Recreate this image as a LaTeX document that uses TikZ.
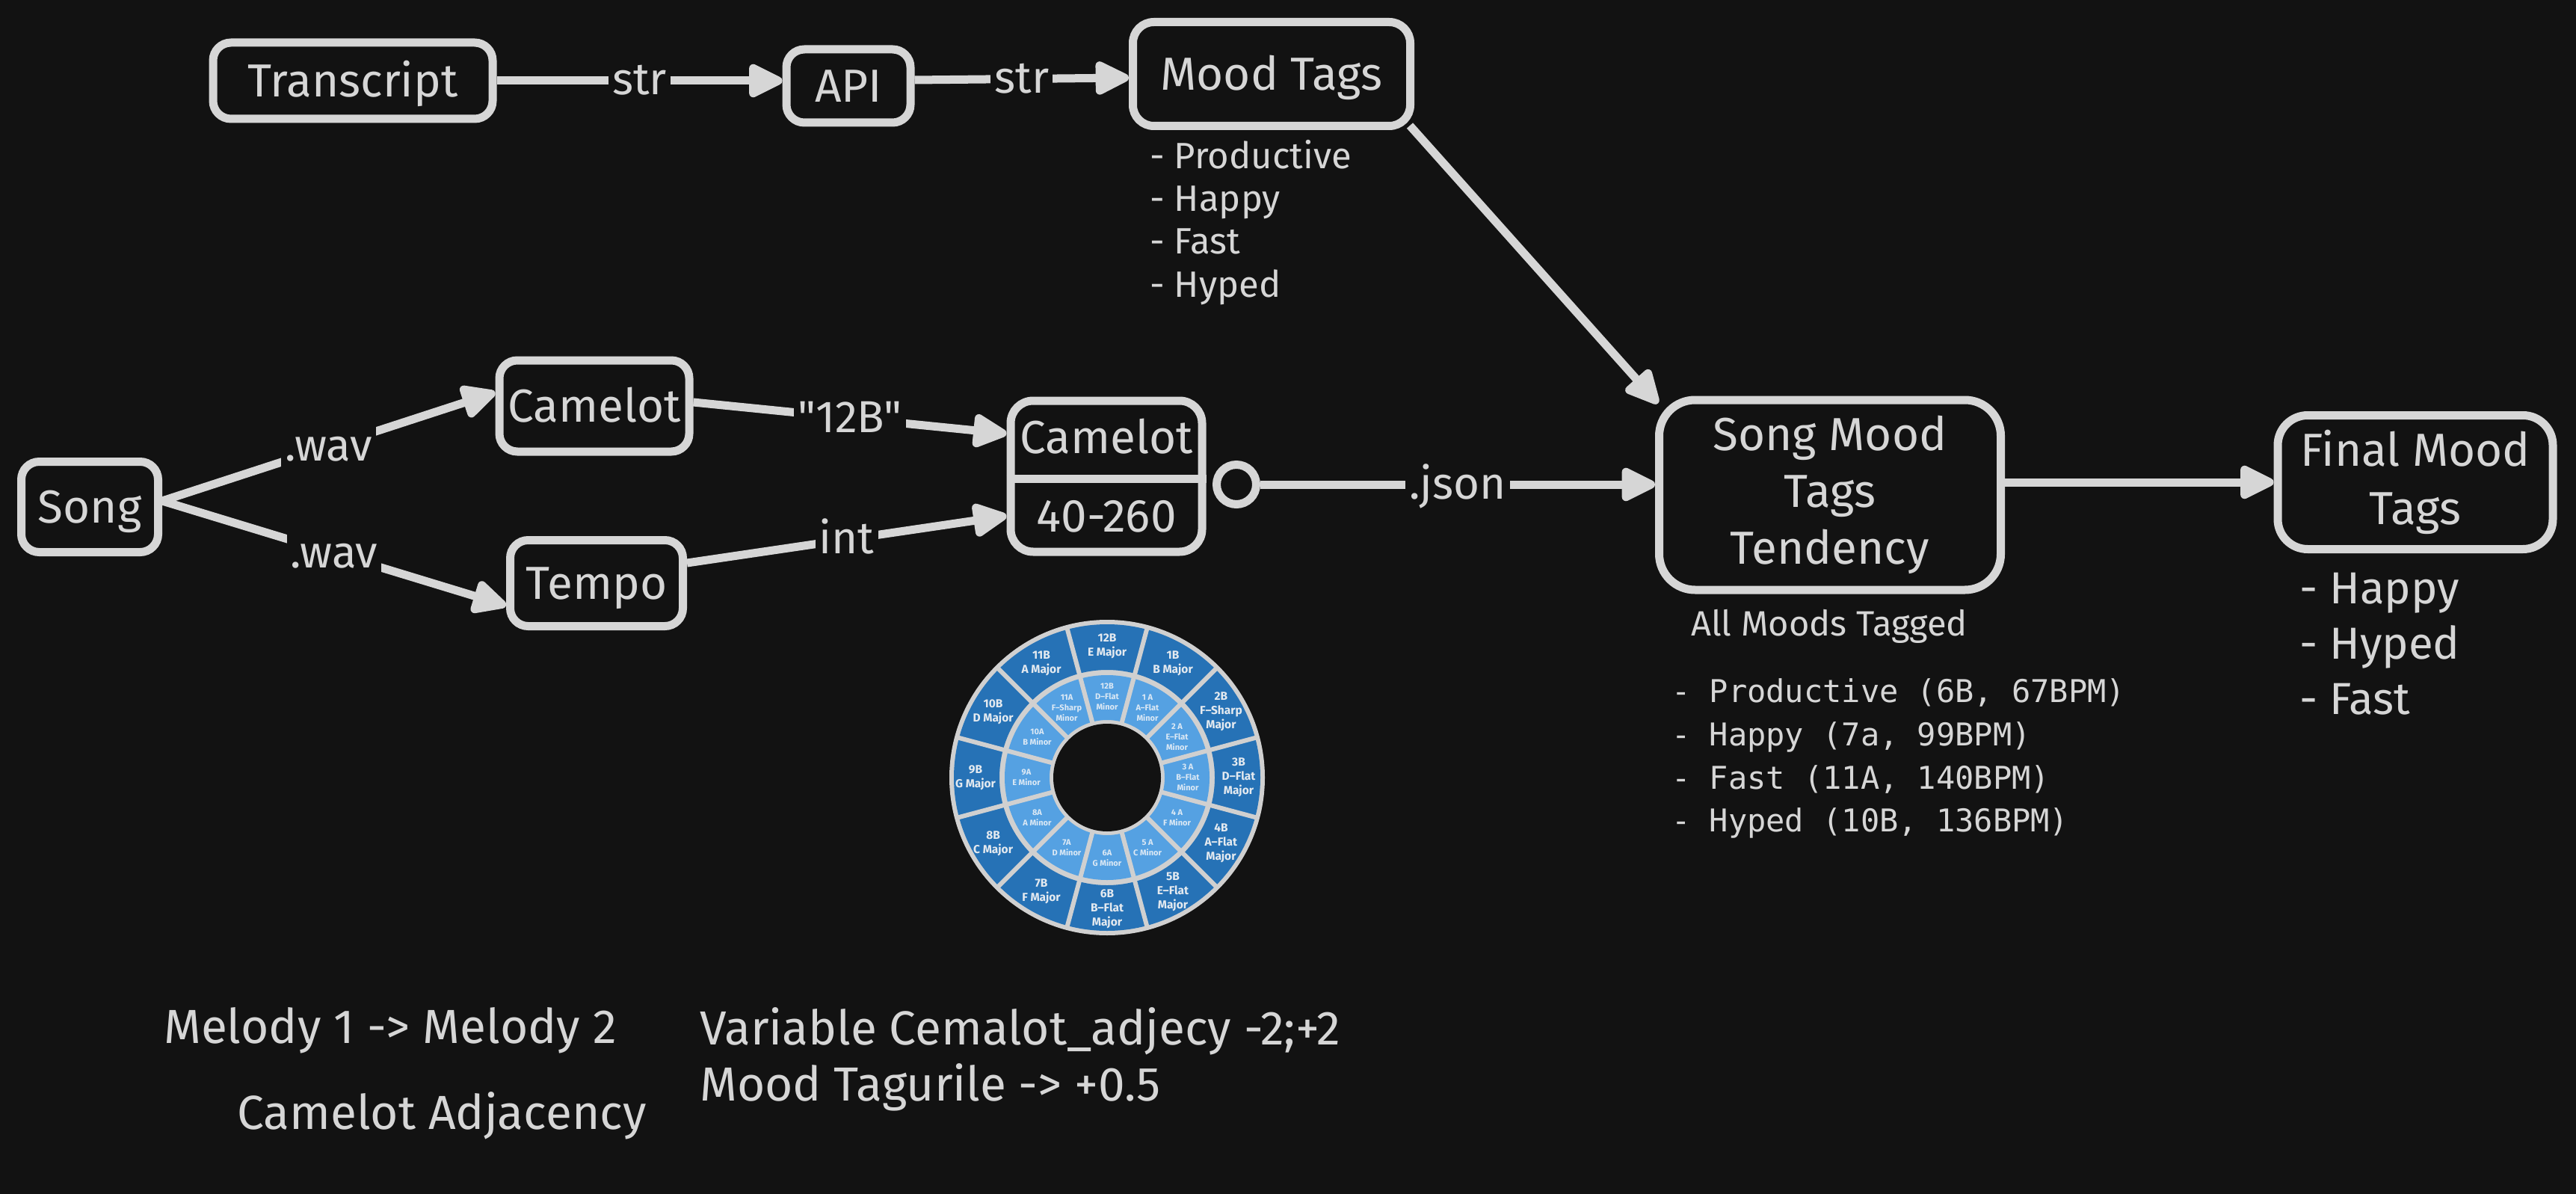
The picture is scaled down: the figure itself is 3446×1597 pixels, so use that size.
\documentclass[tikz,border=0pt]{standalone}
\usepackage{fontspec}
\setmainfont{Fira Sans}[Ligatures=TeXOff]
\newfontfamily\codefont{DejaVu Sans Mono}
\usetikzlibrary{arrows.meta,calc}
\definecolor{bg}{HTML}{121212}
\definecolor{fg}{HTML}{D6D6D6}
\definecolor{wheelgray}{HTML}{D0D0D0}
\definecolor{outerblue}{HTML}{2672B6}
\definecolor{innerblue}{HTML}{55A1E2}
\definecolor{outertext}{HTML}{E4EAF0}
\definecolor{innertext}{HTML}{DCE9F5}
\tikzset{
  box/.style={draw=fg, line width=11pt, rounded corners=#1, inner sep=0pt, text=fg,
    font=\fontsize{62}{76}\selectfont, align=center},
  box/.default=24pt,
  oneline/.style={text height=43pt, text depth=0pt},
  conn/.style={draw=fg, line width=11pt, -{Triangle[length=52pt,width=48pt,round]}},
  lbl/.style={fill=bg, text=fg, inner sep=5pt, text height=44pt, text depth=6pt,
    font=\fontsize{60}{70}\selectfont},
  plain/.style={text=fg, inner sep=0pt},
  wtxtout/.style={text=outertext, font=\fontsize{15.5}{19}\selectfont\bfseries, align=center, inner sep=0pt},
  wtxtin/.style={text=innertext, font=\fontsize{11}{14}\selectfont\bfseries, align=center, inner sep=0pt},
}
\begin{document}
\begin{tikzpicture}[x=1pt,y=-1pt]
\fill[bg] (0,0) rectangle (3446,1597);
\useasboundingbox (0,0) rectangle (3446,1597);

% top row
\node[box, oneline, minimum width=374pt, minimum height=102pt] (tr) at (472,108) {Transcript};
\node[box, oneline, minimum width=166pt, minimum height=98pt] (api) at (1135,115) {API};
\node[box=28pt, oneline, minimum width=371pt, minimum height=139pt] (mt) at (1701,99) {Mood Tags};

\draw[conn] (tr.east) -- (api.west |- tr.east) node[lbl, pos=0.5] {str};
\draw[conn] ([yshift=8pt]api.east) -- ([yshift=-5pt]mt.west) node[lbl, pos=0.5] {str};

\begin{scope}[every node/.style={plain, anchor=base west, font=\fontsize{49}{57}\selectfont}]
\node (mt1) at (1538,226) {- Productive};
\node (mt2) at (1538,283) {- Happy};
\node (mt3) at (1538,340) {- Fast};
\node (mt4) at (1538,397) {- Hyped};
\end{scope}

% middle row
\node[box, oneline, minimum width=183pt, minimum height=121pt] (song) at (120,678) {Song};
\node[box, oneline, minimum width=254pt, minimum height=122pt] (cam1) at (795,543) {Camelot};
\node[box, oneline, minimum width=231pt, minimum height=115pt] (tempo) at (798,780) {Tempo};
\node[box=30pt, minimum width=256pt, minimum height=202pt] (cam2) at (1480,637) {};
\draw[fg, line width=11pt] (cam2.west |- 0,640) -- (cam2.east |- 0,640);
\node[plain, oneline, font=\fontsize{62}{76}\selectfont] (cam2a) at (1480,585) {Camelot};
\node[plain, oneline, font=\fontsize{62}{76}\selectfont] (cam2b) at (1480,690) {40-260};
\node[circle, draw=fg, fill=bg, line width=11pt, minimum size=53pt, inner sep=0pt] (circ) at (1654,648) {};

\draw[conn] ([yshift=8pt]song.east) -- ([yshift=18pt]cam1.west) node[lbl, pos=0.5] {.wav};
\draw[conn] ([yshift=8pt]song.east) -- ([yshift=-30pt]tempo.west) node[lbl, pos=0.5] {.wav};
\draw[conn] ([yshift=5pt]cam1.east) -- ([yshift=57pt]cam2.west) node[lbl, pos=0.5] {"12B"};
\draw[conn] ([yshift=27pt]tempo.east) -- ([yshift=-53pt]cam2.west) node[lbl, pos=0.5] {int};

% right part
\node[box=48pt, minimum width=457pt, minimum height=254pt] (smt) at (2448,662) {Song Mood\\Tags\\Tendency};
\node[box=40pt, minimum width=368pt, minimum height=179pt, font=\fontsize{62}{78}\selectfont] (fin) at (3231,645) {Final Mood\\Tags};

\draw[conn] (circ.east) -- (circ -| smt.west) node[lbl, pos=0.5] {.json};
\draw[conn] (smt.east |- fin.west) -- (fin.west);
\draw[conn] ([shift={(-6,-6)}]mt.south east) -- ($(smt.north west)+(4,10)$);

\node[plain, anchor=base, font=\fontsize{47}{57}\selectfont] (allm) at (2447,850) {All Moods Tagged};
\begin{scope}[every node/.style={plain, anchor=base west, font=\codefont\fontsize{42}{57}\selectfont}]
\node (sl1) at (2236,939) {- Productive (6B, 67BPM)};
\node (sl2) at (2236,997) {- Happy (7a, 99BPM)};
\node (sl3) at (2236,1055) {- Fast (11A, 140BPM)};
\node (sl4) at (2236,1112) {- Hyped (10B, 136BPM)};
\end{scope}
\begin{scope}[every node/.style={plain, anchor=base west, font=\fontsize{60}{74}\selectfont}]
\node (fl1) at (3076,807) {- Happy};
\node (fl2) at (3076,881) {- Hyped};
\node (fl3) at (3076,955) {- Fast};
\end{scope}

% bottom texts
\begin{scope}[every node/.style={plain, font=\fontsize{64}{76}\selectfont}]
\node[anchor=base] (mel) at (522,1395) {Melody 1 -> Melody 2};
\node[anchor=base] (adj) at (591,1510) {Camelot Adjacency};
\node[anchor=base west] (var) at (936,1397) {Variable Cemalot\_adjecy -2;+2};
\node[anchor=base west] (rule) at (936,1472) {Mood Tagurile -> +0.5};
\end{scope}

% camelot wheel
\coordinate (wc) at (1481,1040);
\fill[wheelgray] (wc) circle[radius=211pt];
\fill[outerblue, even odd rule] (wc) circle[radius=205pt] (wc) circle[radius=144pt];
\fill[innerblue, even odd rule] (wc) circle[radius=137pt] (wc) circle[radius=77pt];
\foreach \a in {15,45,...,345} {
  \draw[wheelgray, line width=6pt] ($(wc)+(\a:75pt)$) -- ($(wc)+(\a:207pt)$);
}
\fill[bg] (wc) circle[radius=72pt];
\foreach \a/\t in {90/{12B\\E Major}, 60/{1B\\B Major}, 30/{2B\\F–Sharp\\Major}, 0/{3B\\D–Flat\\Major},
  -30/{4B\\A–Flat\\Major}, -60/{5B\\E–Flat\\Major}, -90/{6B\\B–Flat\\Major}, -120/{7B\\F Major},
  -150/{8B\\C Major}, 180/{9B\\G Major}, 150/{10B\\D Major}, 120/{11B\\A Major}} {
  \node[wtxtout] at ($(wc)+(\a:176pt)$) {\t};
}
\foreach \a/\t in {90/{12B\\D–Flat\\Minor}, 60/{1 A\\A–Flat\\Minor}, 30/{2 A\\E–Flat\\Minor}, 0/{3 A\\B–Flat\\Minor},
  -30/{4 A\\F Minor}, -60/{5 A\\C Minor}, -90/{6A\\G Minor}, -120/{7A\\D Minor},
  -150/{8A\\A Minor}, 180/{9A\\E Minor}, 150/{10A\\B Minor}, 120/{11A\\F–Sharp\\Minor}} {
  \node[wtxtin] at ($(wc)+(\a:108pt)$) {\t};
}
\end{tikzpicture}
\end{document}
